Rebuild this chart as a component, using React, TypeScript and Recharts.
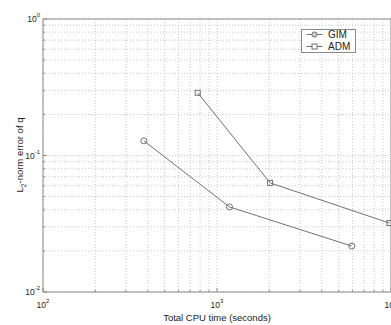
import React from 'react';
import { CartesianGrid, Legend, Line, LineChart, ReferenceLine, XAxis, YAxis } from 'recharts';

// (log-log)
const seriesNames = ['GIM', 'ADM'];
const gimTime = [380, 1180, 5950];
const gimErr = [0.128, 0.042, 0.0217];
const admTime = [775, 2020, 9800];
const admErr = [0.288, 0.063, 0.032];

const xTicks = [100, 200, 300, 400, 500, 600, 700, 800, 900, 1000, 2000, 3000, 4000, 5000, 6000, 7000, 8000, 9000, 10000];
const yTicks = [0.01, 0.02, 0.03, 0.04, 0.05, 0.06, 0.07, 0.08, 0.09, 0.1, 0.2, 0.3, 0.4, 0.5, 0.6, 0.7, 0.8, 0.9, 1];

const gimData = gimTime.map((t, i) => ({ time: t, err: gimErr[i] }));
const admData = admTime.map((t, i) => ({ time: t, err: admErr[i] }));

const FONT = '"Liberation Sans", Arial, sans-serif';
const LINE = '#707070';
const AXIS = '#8a8a8a';
const TEXT = '#222';

const isMajor = (v: number) => Math.abs(Math.log10(v) - Math.round(Math.log10(v))) < 1e-6;

const XTick = (props: any) => {
  const { x, y, payload } = props;
  const v = payload.value;
  const major = isMajor(v);
  return (
    <g>
      <line x1={x} x2={x} y1={y} y2={y - (major ? 4 : 2)} stroke={AXIS} />
      {major && (
        <text x={x} y={y + 16} textAnchor="middle" fontSize={8.5} fill={TEXT} fontFamily={FONT}>
          10<tspan dy={-5} fontSize={6}>{Math.round(Math.log10(v))}</tspan>
        </text>
      )}
    </g>
  );
};

const TopTick = (props: any) => {
  const { x, y, payload } = props;
  const major = isMajor(payload.value);
  return <line x1={x} x2={x} y1={y} y2={y + (major ? 4 : 2)} stroke={AXIS} />;
};

const YTick = (props: any) => {
  const { x, y, payload } = props;
  const v = payload.value;
  const major = isMajor(v);
  return (
    <g>
      <line x1={x} x2={x + (major ? 4 : 2)} y1={y} y2={y} stroke={AXIS} />
      {major && (
        <text x={x - 3} y={y + 3} textAnchor="end" fontSize={8.5} fill={TEXT} fontFamily={FONT}>
          10<tspan dy={-5} fontSize={6}>{Math.round(Math.log10(v))}</tspan>
        </text>
      )}
    </g>
  );
};

const SquareDot = (props: any) => {
  const { cx, cy } = props;
  if (cx == null || cy == null) return null;
  return <rect x={cx - 2.5} y={cy - 2.5} width={5} height={5} fill="none" stroke={LINE} />;
};

const YLabel = () => (
  <text
    x={23}
    y={155}
    transform="rotate(-90, 23, 155)"
    textAnchor="middle"
    fontSize={9.5}
    fill={TEXT}
    fontFamily={FONT}
  >
    L<tspan dy={3} fontSize={6.5}>2</tspan>
    <tspan dy={-3}>-norm error of q</tspan>
  </text>
);

const renderLegend = (props: any) => {
  const payload = [...(props.payload || [])].sort(
    (a: any, b: any) => seriesNames.indexOf(a.value) - seriesNames.indexOf(b.value)
  );
  return (
    <svg width={56} height={25} style={{ display: 'block' }}>
      <rect x={0.5} y={0.5} width={54} height={23} fill="#fff" stroke={AXIS} />
      {payload.map((p: any, i: number) => {
        const cy = 5.5 + i * 12;
        return (
          <g key={p.value}>
            <line x1={5.5} x2={21.5} y1={cy} y2={cy} stroke={LINE} />
            {p.value === 'GIM' ? (
              <circle cx={13.5} cy={cy} r={2.6} fill="#ccc" stroke={LINE} />
            ) : (
              <rect x={11} y={cy - 2.5} width={5} height={5} fill="#fff" stroke={LINE} />
            )}
            <text x={27} y={cy + 3.5} fontSize={10} fill={TEXT} fontFamily={FONT}>
              {p.value}
            </text>
          </g>
        );
      })}
    </svg>
  );
};

export default function App() {
  return (
    <div style={{ position: 'fixed', left: 0, top: 0, width: 391, height: 325, overflow: 'hidden', background: '#fff' }}>
      <LineChart width={400} height={325} margin={{ top: 19, right: 9, bottom: 0, left: 0 }}>
        <CartesianGrid stroke="#c8c8c8" strokeDasharray="1 2" />
        <XAxis
          dataKey="time"
          type="number"
          scale="log"
          domain={[100, 10000]}
          ticks={xTicks}
          interval={0}
          height={33}
          tickSize={0}
          tickMargin={0}
          stroke={AXIS}
          tick={<XTick />}
          label={{
            value: 'Total CPU time (seconds)',
            position: 'insideBottom',
            offset: 4,
            fontSize: 9.5,
            fill: TEXT,
            fontFamily: FONT,
          }}
        />
        <XAxis
          xAxisId="top"
          orientation="top"
          dataKey="time"
          type="number"
          scale="log"
          domain={[100, 10000]}
          ticks={xTicks}
          interval={0}
          height={0}
          tickSize={0}
          tickMargin={0}
          axisLine={false}
          tick={<TopTick />}
        />
        <YAxis
          type="number"
          scale="log"
          domain={[0.01, 1]}
          ticks={yTicks}
          interval={0}
          width={43}
          tickSize={0}
          tickMargin={0}
          stroke={AXIS}
          tick={<YTick />}
          label={<YLabel />}
        />
        <ReferenceLine y={1} stroke={AXIS} />
        <ReferenceLine x={10000} stroke={AXIS} />
        <Legend
          layout="vertical"
          align="center"
          verticalAlign="middle"
          content={renderLegend}
          wrapperStyle={{ position: 'absolute', left: 301, top: 29, width: 56, height: 25 }}
        />
        <Line
          data={gimData}
          dataKey="err"
          name="GIM"
          stroke={LINE}
          strokeWidth={1}
          dot={{ r: 3, fill: 'none', stroke: LINE, strokeWidth: 1 }}
          isAnimationActive={false}
        />
        <Line
          data={admData}
          dataKey="err"
          name="ADM"
          stroke={LINE}
          strokeWidth={1}
          dot={<SquareDot />}
          isAnimationActive={false}
        />
      </LineChart>
    </div>
  );
}
